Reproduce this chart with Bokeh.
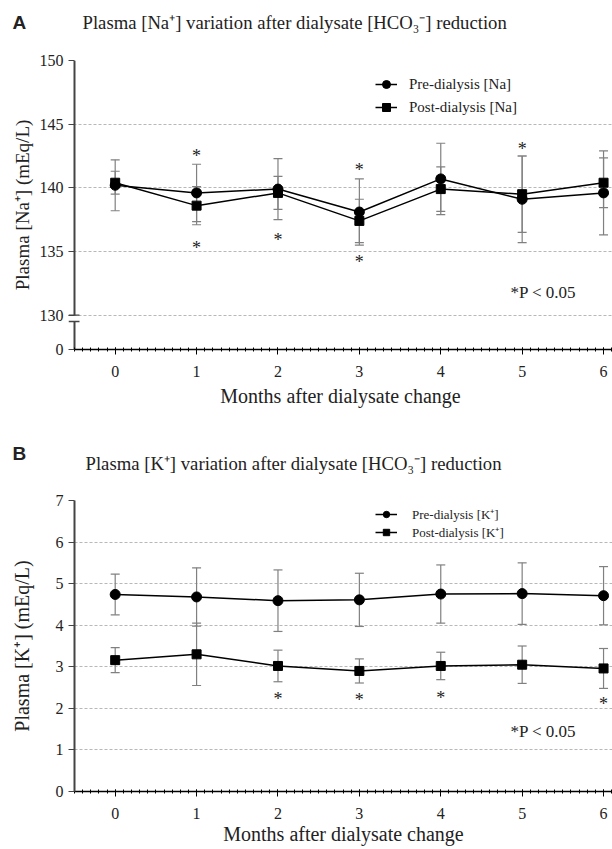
from bokeh.plotting import figure
from bokeh.models import (ColumnDataSource, Whisker, TeeHead, Legend, LegendItem, Label,
                          FixedTicker, SingleIntervalTicker, Range1d)
from bokeh.core.properties import value
from bokeh.embed import file_html
from bokeh.resources import INLINE

# ---------------- data ----------------
months = [0, 1, 2, 3, 4, 5, 6]

na_pre = [140.2, 139.6, 139.9, 138.1, 140.7, 139.1, 139.6]
na_pre_sd = [2.0, 2.25, 2.4, 2.6, 2.8, 3.4, 3.3]
na_post = [140.4, 138.6, 139.6, 137.4, 139.9, 139.5, 140.4]
na_post_sd = [0.9, 1.5, 1.3, 1.7, 1.75, 3.0, 1.95]

k_pre = [4.74, 4.68, 4.59, 4.61, 4.75, 4.76, 4.71]
k_pre_sd = [0.49, 0.70, 0.74, 0.64, 0.70, 0.74, 0.70]
k_post = [3.16, 3.30, 3.02, 2.90, 3.02, 3.05, 2.96]
k_post_sd = [0.30, 0.75, 0.38, 0.29, 0.33, 0.45, 0.48]

na_star_month = [1, 1, 2, 3, 3, 5]
na_star_pos = [142.8, 135.6, 136.2, 141.75, 134.5, 143.35]
k_star_month = [2, 3, 4, 6]
k_star_pos = [2.33, 2.29, 2.35, 2.21]

na_ticks = [130, 135, 140, 145, 150]
k_ticks = [0, 1, 2, 3, 4, 5, 6, 7]
na_break_low = 127.3   # where the "0" of the broken Na axis sits
na_break_top = 130.0
na_break_gap = 0.5

title_a = "Plasma [Na\u207a] variation after dialysate [HCO\u2083\u207b] reduction"
title_b = "Plasma [K\u207a] variation after dialysate [HCO\u2083\u207b] reduction"
ylab_a = "Plasma [Na\u207a] (mEq/L)"
ylab_b = "Plasma [K\u207a] (mEq/L)"
xlab = "Months after dialysate change"
legend_a = ["Pre-dialysis [Na]", "Post-dialysis [Na]"]
legend_b = ["Pre-dialysis [K\u207a]", "Post-dialysis [K\u207a]"]
pnote = "*P < 0.05"

SERIF = "Liberation Serif"
X_START, X_END = -0.5, 6.11
PPU = 81.4  # pixels per month (for small decorations only)
TXT = "#222"


def header(height, letter, letter_y, title, title_x, title_y):
    h = figure(width=612, height=height, x_range=Range1d(0, 612), y_range=Range1d(height, 0),
               output_backend="svg", toolbar_location=None, x_axis_type=None, y_axis_type=None,
               min_border=0)
    h.outline_line_color = None
    h.grid.visible = False
    h.text(x=[12], y=[letter_y], text=[letter], text_font=value("Liberation Sans"),
           text_font_style="bold", text_font_size="19px", text_baseline="middle",
           text_color=TXT)
    h.text(x=[title_x], y=[title_y], text=[title], text_font=value(SERIF),
           text_font_size="18.7px", text_baseline="middle", text_color=TXT)
    return h


def base_fig(height, x_start, y_range, top, bottom, left):
    p = figure(width=612, height=height, x_range=(x_start, X_END), y_range=y_range,
               output_backend="svg", toolbar_location=None,
               min_border_left=left, min_border_right=0, min_border_top=top, min_border_bottom=bottom)
    p.outline_line_color = None
    p.xgrid.grid_line_color = None
    p.ygrid.grid_line_color = "#b8b8b8"
    p.ygrid.grid_line_dash = "3 2"
    p.ygrid.grid_line_width = 1
    xa = p.xaxis[0]
    xa.ticker = SingleIntervalTicker(interval=1, num_minor_ticks=10)
    xa.bounds = (X_START, X_END)
    xa.axis_line_color = "black"
    xa.axis_line_width = 1.5
    xa.major_tick_line_color = "black"
    xa.major_tick_in = 2
    xa.major_tick_out = 5
    xa.minor_tick_line_color = "black"
    xa.minor_tick_in = 2
    xa.minor_tick_out = 2
    xa.major_label_text_font = SERIF
    xa.major_label_text_font_size = "16px"
    xa.major_label_text_color = TXT
    xa.axis_label = xlab
    xa.axis_label_text_font = SERIF
    xa.axis_label_text_font_size = "20px"
    xa.axis_label_text_font_style = "normal"
    xa.axis_label_text_color = TXT
    ya = p.yaxis[0]
    ya.axis_line_color = "#444"
    ya.axis_line_width = 2
    ya.major_tick_line_color = "#444"
    ya.major_tick_in = 0
    ya.major_tick_out = 6
    ya.minor_tick_line_color = None
    ya.major_label_text_font = SERIF
    ya.major_label_text_font_size = "16px"
    ya.major_label_text_color = TXT
    ya.axis_label_text_font = SERIF
    ya.axis_label_text_font_style = "normal"
    ya.axis_label_text_color = TXT
    ya.axis_label_standoff = 4
    return p


def draw_series(p, pre, pre_sd, post, post_sd, labels, legend_loc, font_size, label_h, spacing, standoff):
    for vals, sds in ((pre, pre_sd), (post, post_sd)):
        src = ColumnDataSource(dict(x=months, lo=[v - s for v, s in zip(vals, sds)],
                                    hi=[v + s for v, s in zip(vals, sds)]))
        w = Whisker(base="x", lower="lo", upper="hi", source=src, line_color="#808080", line_width=1.2,
                    upper_head=TeeHead(size=9, line_color="#808080", line_width=1.2),
                    lower_head=TeeHead(size=9, line_color="#808080", line_width=1.2))
        p.add_layout(w)
    l1 = p.line(months, pre, line_color="black", line_width=1.5)
    s1 = p.scatter(months, pre, marker="circle", size=10, fill_color="black", line_color="black")
    l2 = p.line(months, post, line_color="black", line_width=1.5)
    s2 = p.scatter(months, post, marker="square", size=9, fill_color="black", line_color="black")
    leg = Legend(items=[LegendItem(label=labels[0], renderers=[l1, s1]),
                        LegendItem(label=labels[1], renderers=[l2, s2])],
                 location=legend_loc, border_line_color=None, background_fill_alpha=0,
                 padding=0, margin=0, spacing=spacing, glyph_width=22, glyph_height=label_h,
                 label_height=label_h, label_standoff=standoff, label_text_font=SERIF,
                 label_text_font_size=font_size, label_text_color=TXT)
    p.add_layout(leg)


def stars(p, xs, ys):
    src = ColumnDataSource(dict(x=xs, y=ys, t=["*"] * len(xs)))
    p.text("x", "y", text="t", source=src, text_font=value(SERIF), text_font_size="18px",
           text_align="center", text_baseline="middle", y_offset=4, text_color=TXT)


# ---------------- panel A ----------------
headA = header(40, "A", 22, title_a, 82, 22)

xa_start = X_START - 6 / PPU
pA = base_fig(380, xa_start, (na_break_low, 150), 20, 71, 68)
ya = pA.yaxis[0]
ya.ticker = FixedTicker(ticks=[na_break_low] + na_ticks)
ya.major_label_overrides = {na_break_low: "0"}
ya.axis_label = ylab_a
ya.axis_label_text_font_size = "19px"
ya.axis_line_color = None
ya.major_tick_in = 6
ya.major_tick_out = 0
ya.major_label_standoff = 5
pA.ygrid[0].ticker = FixedTicker(ticks=na_ticks)
pA.xaxis[0].major_label_standoff = 11
pA.xaxis[0].axis_label_standoff = 5
# broken y axis line drawn in the frame
pA.segment(x0=[X_START, X_START], y0=[na_break_low, na_break_top],
           x1=[X_START, X_START], y1=[na_break_top - na_break_gap, 150],
           line_color="#444", line_width=2)
pA.segment(x0=[X_START - 6 / PPU] * 2, y0=[na_break_top, na_break_top - na_break_gap],
           x1=[X_START + 5 / PPU] * 2, y1=[na_break_top, na_break_top - na_break_gap],
           line_color="#444", line_width=1.3)
draw_series(pA, na_pre, na_pre_sd, na_post, na_post_sd, legend_a, (307, 232), "15px", 20, 3, 12)
stars(pA, na_star_month, na_star_pos)
pA.add_layout(Label(x=5.26, y=131.8, text=pnote, text_font=SERIF, text_font_size="17px",
                    text_align="center", text_baseline="middle", text_color=TXT))

# ---------------- panel B ----------------
headB = header(62, "B", 33, title_b, 85, 43)

pB = base_fig(367, X_START, (0, 7), 18, 58, 74)
pB.yaxis[0].ticker = FixedTicker(ticks=k_ticks)
pB.yaxis[0].axis_label = ylab_b
pB.yaxis[0].axis_label_text_font_size = "20px"
pB.yaxis[0].axis_label_standoff = 20
pB.ygrid[0].ticker = FixedTicker(ticks=k_ticks[1:])
pB.xaxis[0].major_label_standoff = 11
pB.xaxis[0].axis_label_standoff = 1
draw_series(pB, k_pre, k_pre_sd, k_post, k_post_sd, legend_b, (301, 250), "13px", 16, 0, 15)
stars(pB, k_star_month, k_star_pos)
pB.add_layout(Label(x=5.26, y=1.44, text=pnote, text_font=SERIF, text_font_size="17px",
                    text_align="center", text_baseline="middle", text_color=TXT))

open("out.html", "w").write(file_html([headA, pA, headB, pB], INLINE))
